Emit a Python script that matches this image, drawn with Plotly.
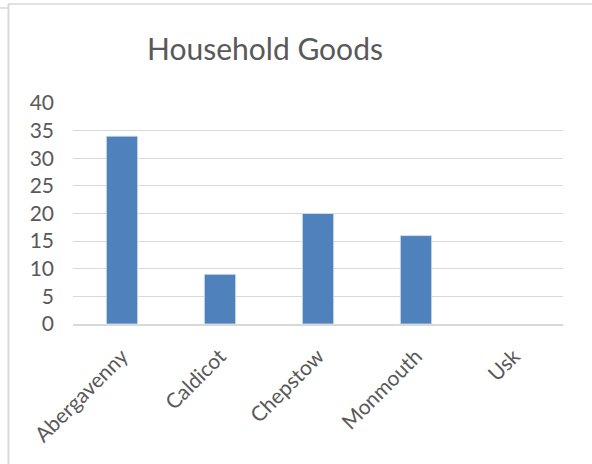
import plotly.graph_objects as go

# Household goods counts per town
towns = ["Abergavenny", "Caldicot", "Chepstow", "Monmouth", "Usk"]
goods = [34, 9, 20, 16, 0]
y_ticks = [0, 5, 10, 15, 20, 25, 30, 35, 40]

W, H = 592, 464
L, R, T, B = 73, 29, 103, 140
pw, ph = W - L - R, H - T - B


def px_x(x):
    return (x - L) / pw


def px_y(y):
    return (H - B - y) / ph


# thin light edge on bars, none on empty ones
edge_widths = [0.8 if v else 0 for v in goods]

fig = go.Figure(
    go.Bar(
        x=towns,
        y=goods,
        marker=dict(color="#4F81BD", line=dict(color="#DCE6F2", width=edge_widths)),
    )
)

frame = "#D9D9D9"
fig.update_layout(
    width=W,
    height=H,
    margin=dict(l=L, r=R, t=T, b=B),
    paper_bgcolor="white",
    plot_bgcolor="white",
    font=dict(family="Lato", color="#595959"),
    bargap=0.68,
    showlegend=False,
    title=dict(
        text="Household Goods",
        x=265 / W,
        xanchor="center",
        y=1 - 49 / H,
        yanchor="middle",
        font=dict(size=30, color="#595959", family="Lato"),
    ),
    shapes=[
        dict(type="line", xref="paper", yref="paper",
             x0=px_x(8.5), x1=px_x(8.5), y0=px_y(4), y1=px_y(H + 2),
             line=dict(color=frame, width=2)),
        dict(type="line", xref="paper", yref="paper",
             x0=px_x(8), x1=px_x(W + 2), y0=px_y(4), y1=px_y(4),
             line=dict(color=frame, width=1.5)),
        dict(type="line", xref="paper", yref="paper",
             x0=px_x(-2), x1=px_x(8), y0=px_y(8), y1=px_y(8),
             line=dict(color=frame, width=1.5)),
    ],
)

fig.update_yaxes(
    range=[0, 40],
    tickvals=y_ticks,
    showgrid=True,
    gridcolor="#D9D9D9",
    gridwidth=1.3,
    zeroline=False,
    showline=False,
    tickfont=dict(size=21, color="#595959"),
    ticklabelstandoff=18,
    fixedrange=True,
)
fig.update_xaxes(
    showline=True,
    linecolor="#D9D9D9",
    linewidth=1.5,
    tickangle=-45,
    tickfont=dict(size=21, color="#595959"),
    ticklabelstandoff=10,
    fixedrange=True,
)

fig.write_html("out.html", config={"displayModeBar": False})
